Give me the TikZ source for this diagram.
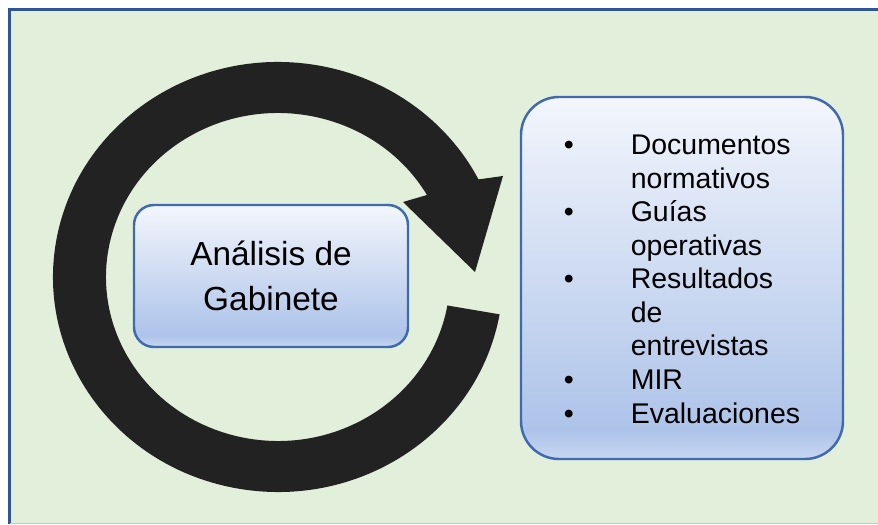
\documentclass[tikz,border=0pt]{standalone}
\usepackage{fontspec}
\setmainfont{Liberation Sans}
\definecolor{fondo}{HTML}{E2EFDA}
\definecolor{marco}{HTML}{2F5597}
\definecolor{borde}{HTML}{4169B0}
\definecolor{flecha}{HTML}{222222}
\definecolor{claro}{HTML}{F3F6FC}
\definecolor{oscuro}{HTML}{ADC3E9}
\definecolor{bajo}{HTML}{C8D7F2}
\pgfdeclareverticalshading{degradado}{100bp}{color(0bp)=(bajo); color(25bp)=(bajo); color(29bp)=(oscuro); color(75bp)=(claro); color(100bp)=(claro)}
\begin{document}
\begin{tikzpicture}[caja/.style={draw=borde,line width=1.4pt,shading=degradado,rounded corners=0.4cm}]
\useasboundingbox (0,0) rectangle (17.56,10.48);
\fill [color=fondo] (0.19,0.) rectangle (17.56,10.29);
\draw [color=marco,line width=1.7pt] (0.19,0.) -- (0.19,10.29) -- (17.56,10.29);
\draw [color=gray!45,line width=0.5pt] (0.19,0.01) -- (17.56,0.01);
\begin{scope}[shift={(5.56,4.94)}]
\fill [color=flecha] (-10:4.5 and 4.3) arc[start angle=-10,end angle=-333,x radius=4.5,y radius=4.3] -- (4.5,2.02) -- (3.94,0.1) -- (2.5,1.5) -- (30:3.44 and 3.28) arc[start angle=30,end angle=350,x radius=3.44,y radius=3.28] -- cycle;
\end{scope}
\node [caja,minimum width=5.48cm,minimum height=2.84cm,align=center,font=\fontsize{19}{26}\selectfont] (gabinete) at (5.42,4.96) {Análisis de\\Gabinete};
\node [caja,rounded corners=0.76cm,minimum width=6.44cm,minimum height=7.24cm,font=\fontsize{16.2}{19.1}\selectfont] (fuentes) at (13.64,4.92) {\begin{tabular}{@{}p{1.34cm}@{}l@{}}
\rule{0pt}{18pt}\textbullet & Documentos\\
 & normativos\\
\textbullet & Guías\\
 & operativas\\
\textbullet & Resultados\\
 & de\\
 & entrevistas\\
\textbullet & MIR\\
\textbullet & Evaluaciones
\end{tabular}};
\end{tikzpicture}
\end{document}
